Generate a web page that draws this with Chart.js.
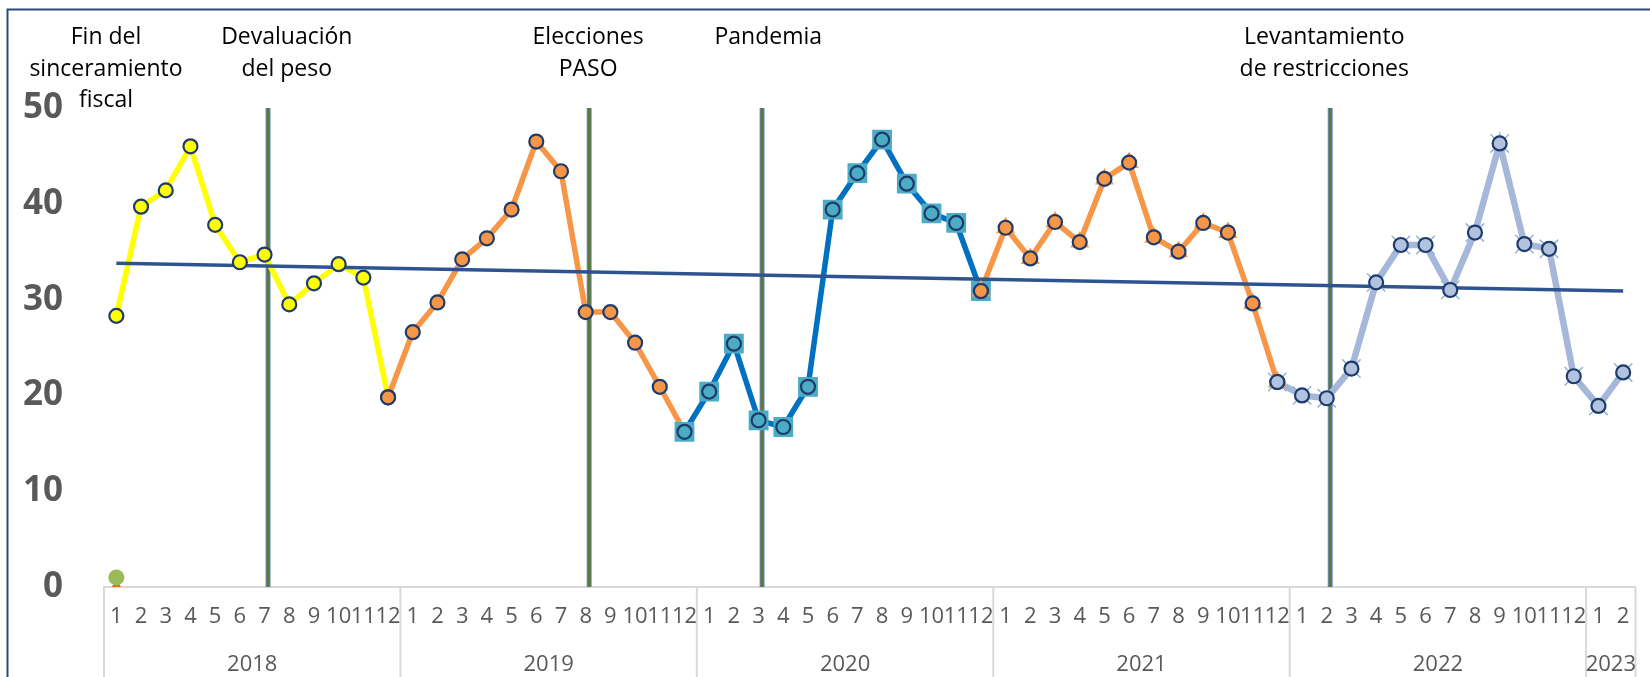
<!DOCTYPE html>
<html>
<head>
<meta charset="utf-8">
<script src="https://cdn.jsdelivr.net/npm/chart.js@4.4.1/dist/chart.umd.min.js"></script>
<style>
  html, body { margin: 0; padding: 0; background: #fff; }
  #wrap { width: 1650px; height: 677px; }
</style>
</head>
<body>
<div id="wrap"><canvas id="chart" width="1650" height="677"></canvas></div>
<script>
// categories
const years = ['2018', '2019', '2020', '2021', '2022', '2023'];
const monthsPerYear = [12, 12, 12, 12, 12, 2];
const months = ['1', '2', '3', '4', '5', '6', '7', '8', '9', '10', '11', '12'];

// series values, one piece per colour
const yellow2018 = [28.3, 39.7, 41.4, 46.0, 37.8, 33.9, 34.7, 29.5, 31.7, 33.7, 32.3, 19.8];
const orange2019 = [19.8, 26.6, 29.7, 34.2, 36.4, 39.4, 46.5, 43.4, 28.7, 28.7, 25.5, 20.9, 16.2];
const blue2020 = [16.2, 20.4, 25.4, 17.4, 16.7, 20.9, 39.4, 43.2, 46.7, 42.1, 39.0, 38.0, 30.9];
const orange2021 = [30.9, 37.5, 34.3, 38.1, 36.0, 42.6, 44.3, 36.5, 35.0, 38.0, 37.0, 29.6, 21.4];
const blue2022 = [21.4, 20.0, 19.7, 22.8, 31.8, 35.7, 35.7, 31.0, 37.0, 46.3, 35.8, 35.3, 22.0, 18.9, 22.4];
const trendEnds = [33.8, 30.9];
const greenDot = [1.0];
const orangeDot = [0];

// y axis ticks
const yMin = 0, yMax = 50, yStep = 10;

// events (vertical lines) and notes
const eventIdx = [6, 19, 26, 49];
const notes = [
  ['Fin del', 'sinceramiento', 'fiscal'],
  ['Devaluación', 'del peso'],
  ['Elecciones', 'PASO'],
  ['Pandemia'],
  ['Levantamiento', 'de restricciones']
];

const categories = years.flatMap((y, i) => months.slice(0, monthsPerYear[i]));
const N = categories.length;

function place(start, vals) {
  const a = new Array(N).fill(null);
  vals.forEach((v, i) => { a[start + i] = v; });
  return a;
}

const yellowData = place(0, yellow2018);
const orange19Data = place(11, orange2019);
const blue20Data = place(23, blue2020);
const orange21Data = place(35, orange2021);
const blue22Data = place(47, blue2022);
const trendData = new Array(N).fill(null);
trendData[0] = trendEnds[0];
trendData[N - 1] = trendEnds[1];

const NAVY = '#1F3B6B';
const YELLOW = '#FFFF00';
const ORANGE = '#F79646';
const BLUE = '#0070C0';
const TEAL = '#4BACC6';
const LIGHT = '#A6B8D9';

function lineSet(data, color, width, order) {
  return {
    data: data, borderColor: color, borderWidth: width, pointRadius: 0,
    pointHoverRadius: 0, fill: false, tension: 0, order: order
  };
}
function markSet(data, style, radius, fillColor, borderColor, bw, order) {
  return {
    data: data, showLine: false, pointStyle: style, pointRadius: radius,
    pointHoverRadius: radius, pointBackgroundColor: fillColor,
    pointBorderColor: borderColor, pointBorderWidth: bw, order: order
  };
}

const decor = {
  id: 'decor',
  beforeDraw(chart) {
    const {ctx, width, height} = chart;
    ctx.save();
    ctx.fillStyle = '#fff';
    ctx.fillRect(0, 0, width, height);
    ctx.strokeStyle = '#2B4A7A';
    ctx.lineWidth = 2;
    ctx.strokeRect(7.5, 9.5, width + 40, height + 40);
    ctx.restore();
  },
  beforeDatasetsDraw(chart) {
    const {ctx, scales: {x, y}} = chart;
    ctx.save();
    eventIdx.forEach(i => {
      const px = x.getPixelForValue(i) + 3.5;
      const top = y.getPixelForValue(yMax);
      const bot = y.getPixelForValue(yMin);
      ctx.beginPath();
      ctx.moveTo(px, top);
      ctx.lineTo(px, bot);
      ctx.strokeStyle = '#6A8CC4';
      ctx.lineWidth = 5;
      ctx.stroke();
      ctx.strokeStyle = '#5C7736';
      ctx.lineWidth = 3;
      ctx.stroke();
    });
    ctx.restore();
  },
  afterDraw(chart) {
    const {ctx, height, chartArea, scales: {x}} = chart;
    ctx.save();
    // year groups under the month labels
    ctx.strokeStyle = '#D9D9D9';
    ctx.lineWidth = 2;
    ctx.fillStyle = '#595959';
    ctx.font = '22px "Open Sans"';
    ctx.textAlign = 'center';
    ctx.textBaseline = 'middle';
    let start = 0;
    years.forEach((yr, i) => {
      const n = monthsPerYear[i];
      const left = x.getPixelForValue(start - 0.5);
      const right = x.getPixelForValue(start + n - 0.5);
      ctx.beginPath();
      ctx.moveTo(left, chartArea.bottom);
      ctx.lineTo(left, height);
      ctx.stroke();
      if (i === years.length - 1) {
        ctx.beginPath();
        ctx.moveTo(right, chartArea.bottom);
        ctx.lineTo(right, height);
        ctx.stroke();
      }
      ctx.fillText(yr, (left + right) / 2, 665);
      start += n;
    });
    // notes above the plot
    const notePos = [-0.42, 6.9, 19.1, 26.39, 48.9];
    ctx.fillStyle = '#000';
    ctx.font = '23px "Open Sans"';
    ctx.textBaseline = 'alphabetic';
    notes.forEach((lines, k) => {
      const cx = x.getPixelForValue(notePos[k]);
      lines.forEach((t, j) => ctx.fillText(t, cx, 44 + j * 31.7));
    });
    ctx.restore();
  }
};

new Chart(document.getElementById('chart'), {
  type: 'line',
  data: {
    labels: categories,
    datasets: [
      lineSet(yellowData, YELLOW, 5.5, 100),
      lineSet(orange19Data, ORANGE, 5.5, 99),
      lineSet(blue20Data, BLUE, 5.5, 98),
      lineSet(orange21Data, ORANGE, 5.5, 97),
      lineSet(blue22Data, LIGHT, 6.5, 96),
      Object.assign(lineSet(trendData, '#2E5490', 3.5, 90), {spanGaps: true}),
      markSet(yellowData, 'circle', 7, YELLOW, NAVY, 2.2, 50),
      markSet(orange19Data, 'circle', 7, ORANGE, NAVY, 2.2, 49),
      markSet(blue20Data, 'rect', 14, TEAL, TEAL, 0, 48),
      markSet(blue20Data, 'circle', 7, TEAL, NAVY, 2.2, 47),
      markSet(orange21Data, 'triangle', 11, ORANGE, ORANGE, 0, 46),
      markSet(orange21Data, 'circle', 7, ORANGE, NAVY, 2.2, 45),
      markSet(blue22Data, 'crossRot', 13, LIGHT, '#95B3D7', 1.5, 44),
      markSet(blue22Data, 'circle', 7, '#B2C3E0', NAVY, 2.2, 43),
      Object.assign(markSet(place(0, orangeDot), 'triangle', 8, '#E46C0A', '#E46C0A', 0, 42), {clip: 0}),
      markSet(place(0, greenDot), 'circle', 8, '#9BBB59', '#9BBB59', 0, 41)
    ]
  },
  options: {
    responsive: false,
    animation: false,
    events: [],
    layout: { padding: { top: 108, right: 9, bottom: 0, left: 0 } },
    plugins: {
      legend: { display: false },
      tooltip: { enabled: false }
    },
    scales: {
      x: {
        type: 'category',
        offset: true,
        ticks: {
          autoSkip: false, maxRotation: 0, minRotation: 0, padding: 17,
          color: '#595959', font: { family: 'Open Sans', size: 22 }
        },
        grid: { display: false, drawTicks: false },
        border: { display: true, color: '#D9D9D9', width: 2 },
        afterFit(s) { s.height = 90; }
      },
      y: {
        min: yMin,
        max: yMax,
        ticks: {
          stepSize: yStep, padding: 41, color: '#595959',
          font: { family: 'Open Sans', size: 35, weight: 'bold' }
        },
        grid: { display: false, drawTicks: false },
        border: { display: false },
        afterFit(s) { s.width = 104; }
      }
    }
  },
  plugins: [decor]
});
</script>
</body>
</html>
